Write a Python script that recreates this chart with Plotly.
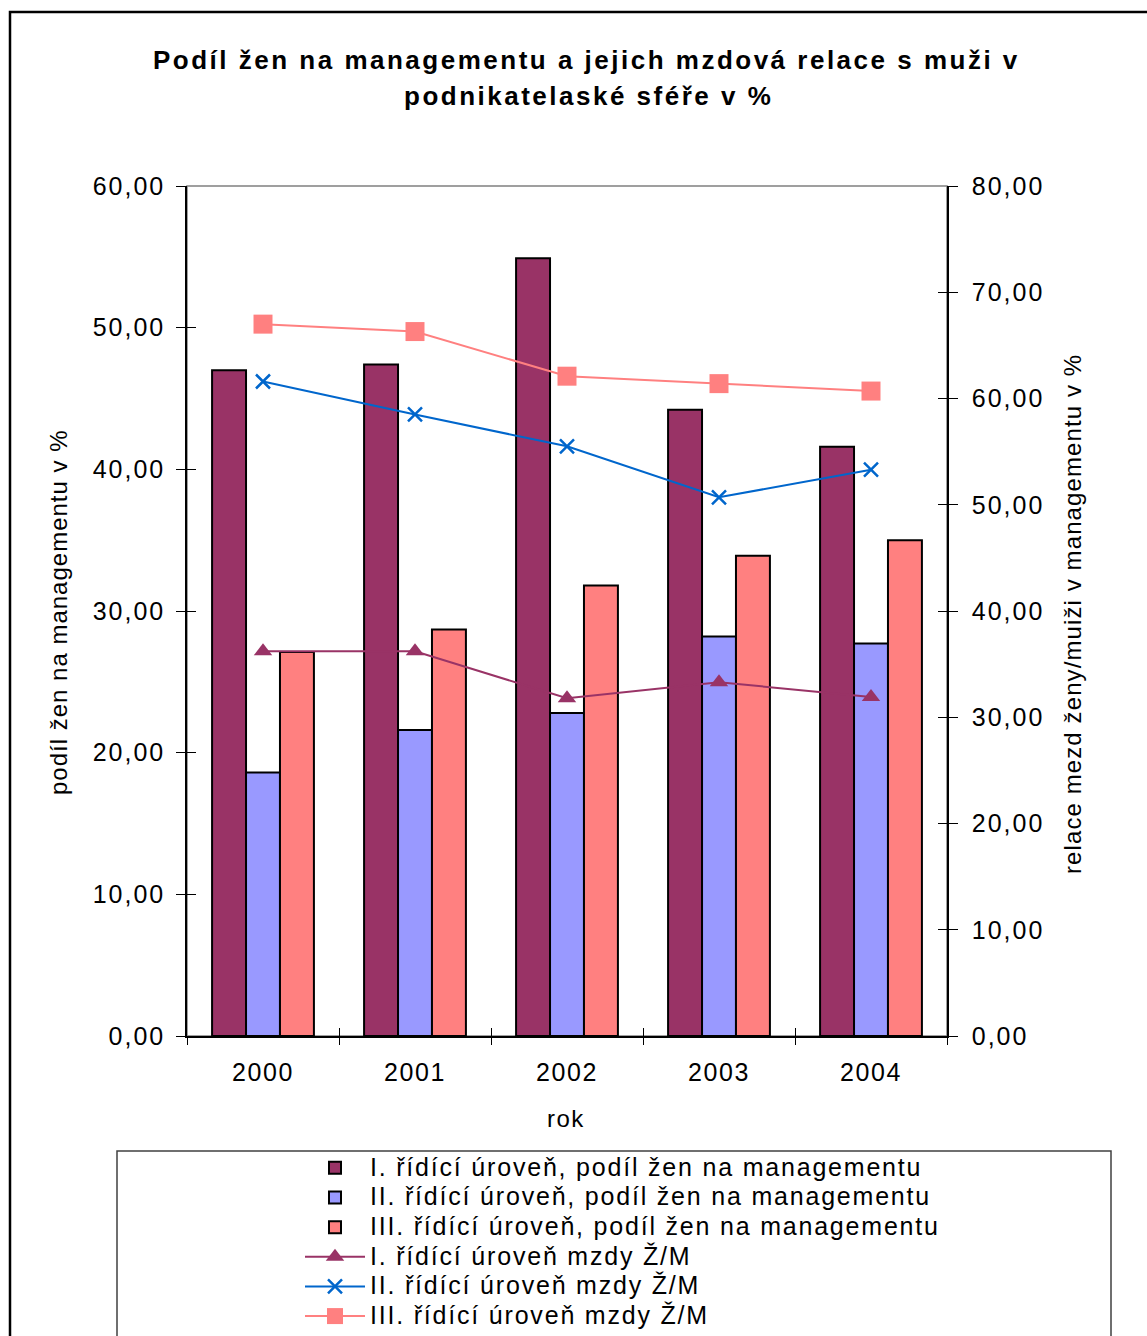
import plotly.graph_objects as go

# Years on the category axis
years = ["2000", "2001", "2002", "2003", "2004"]

# Share of women in management (%), left axis
share_I = [47.0, 47.4, 54.9, 44.2, 41.6]
share_II = [18.6, 21.6, 22.8, 28.2, 27.7]
share_III = [27.1, 28.7, 31.8, 33.9, 35.0]

# Women/men wage relation (%), right axis
wage_I = [36.2, 36.2, 31.8, 33.3, 31.9]
wage_II = [61.6, 58.5, 55.5, 50.7, 53.3]
wage_III = [67.0, 66.3, 62.1, 61.4, 60.7]

# Axis tick values
left_ticks = [0, 10, 20, 30, 40, 50, 60]
right_ticks = [0, 10, 20, 30, 40, 50, 60, 70, 80]

bar_names = [
    "I. řídící úroveň, podíl žen na managementu",
    "II. řídící úroveň, podíl žen na managementu",
    "III. řídící úroveň, podíl žen na managementu",
]
line_names = [
    "I. řídící úroveň mzdy Ž/M",
    "II. řídící úroveň mzdy Ž/M",
    "III. řídící úroveň mzdy Ž/M",
]

FONT = "Liberation Sans, Arial, sans-serif"


def spaced(text, ls, size=None):
    """Wrap text in a span with letter spacing (and optional size)."""
    style = f"letter-spacing:{ls}px"
    if size:
        style += f";font-size:{size}px"
    return f'<span style="{style}">{text}</span>'


def dec(v):
    return f"{v:.2f}".replace(".", ",")


fig = go.Figure()

bar_colors = ["#993366", "#9999FF", "#FF8080"]
for name, vals, col in zip(bar_names, [share_I, share_II, share_III], bar_colors):
    fig.add_trace(go.Bar(
        x=years, y=vals, name=spaced(name, 1.8, 25),
        marker=dict(color=col, line=dict(color="black", width=2)),
        xaxis="x", yaxis="y",
    ))

fig.add_trace(go.Scatter(
    x=years, y=wage_I, name=spaced(line_names[0], 1.8, 25), mode="lines+markers",
    line=dict(color="#993366", width=2),
    marker=dict(symbol="triangle-up", size=16, color="#993366"),
    xaxis="x", yaxis="y2",
))
fig.add_trace(go.Scatter(
    x=years, y=wage_II, name=spaced(line_names[1], 1.8, 25), mode="lines+markers",
    line=dict(color="#0066CC", width=2),
    marker=dict(symbol="x-thin", size=14, color="#0066CC",
                line=dict(color="#0066CC", width=2.5)),
    xaxis="x", yaxis="y2",
))
fig.add_trace(go.Scatter(
    x=years, y=wage_III, name=spaced(line_names[2], 1.8, 25), mode="lines+markers",
    line=dict(color="#FF8080", width=2),
    marker=dict(symbol="square", size=19, color="#FF8080"),
    xaxis="x", yaxis="y2",
))

# Empty helpers so the tick-only overlay axes get drawn
fig.add_trace(go.Scatter(x=[], y=[], xaxis="x2", yaxis="y3",
                         showlegend=False, hoverinfo="skip"))
fig.add_trace(go.Scatter(x=[], y=[], xaxis="x3", yaxis="y4",
                         showlegend=False, hoverinfo="skip"))

tick_font = dict(family=FONT, size=25, color="black")
boundaries = [-0.5, 0.5, 1.5, 2.5, 3.5, 4.5]
tick_common = dict(ticklen=9, tickwidth=1.2, tickcolor="black",
                   showgrid=False, zeroline=False)

fig.update_layout(
    width=1147, height=1336,
    margin=dict(l=187, r=200, t=186, b=300, autoexpand=False),
    paper_bgcolor="white", plot_bgcolor="white",
    barmode="group", bargap=0.33, bargroupgap=0,
    showlegend=True,
    legend=dict(
        x=(300 - 187) / 760, y=(1036 - 1148) / 850,
        xanchor="left", yanchor="top",
        font=dict(family=FONT, size=20.5, color="black"),
        itemwidth=60, bgcolor="rgba(0,0,0,0)", tracegroupgap=0,
    ),
    # category axis: labels only
    xaxis=dict(
        type="category", range=[-0.5, 4.5],
        tickvals=years, ticktext=[spaced(y, 1.6) for y in years],
        ticks="", showline=True, linecolor="black", linewidth=1.5,
        tickfont=tick_font, ticklabelstandoff=13, showgrid=False,
        zeroline=False,
    ),
    # boundary ticks, outer and inner halves
    xaxis2=dict(
        overlaying="x", anchor="y", side="bottom", range=[-0.5, 4.5],
        tickvals=boundaries, ticks="outside", showticklabels=False,
        showline=False, ticklen=8, tickwidth=1.2, tickcolor="black",
        showgrid=False, zeroline=False,
    ),
    xaxis3=dict(
        overlaying="x", anchor="y", side="bottom", range=[-0.5, 4.5],
        tickvals=boundaries, ticks="inside", showticklabels=False,
        showline=False, ticklen=8, tickwidth=1.2, tickcolor="black",
        showgrid=False, zeroline=False,
    ),
    yaxis=dict(
        range=[0, 60], tickvals=left_ticks,
        ticktext=[spaced(dec(v), 2) for v in left_ticks],
        ticks="outside", showline=True, linecolor="black", linewidth=1.5,
        tickfont=tick_font, ticklabelstandoff=6, **tick_common,
    ),
    yaxis2=dict(
        range=[0, 80], tickvals=right_ticks,
        ticktext=[spaced(dec(v), 2) for v in right_ticks],
        overlaying="y", side="right", anchor="x",
        ticks="outside", showline=True, linecolor="black", linewidth=1.5,
        tickfont=tick_font, ticklabelstandoff=9, **tick_common,
    ),
    yaxis3=dict(
        range=[0, 60], tickvals=left_ticks, overlaying="y", side="left",
        anchor="x2", ticks="inside", showticklabels=False, showline=False,
        **tick_common,
    ),
    yaxis4=dict(
        range=[0, 80], tickvals=right_ticks, overlaying="y", side="right",
        anchor="x3", ticks="inside", showticklabels=False, showline=False,
        **tick_common,
    ),
)


# Titles and axis captions
def px_x(p):
    return (p - 187) / 760


def px_y(p):
    return (1036 - p) / 850


title_font = dict(family=FONT, size=26, color="black", weight="bold")
caption_font = dict(family=FONT, size=24, color="black")
annotations = [
    dict(text=spaced("Podíl žen na managementu a jejich mzdová relace s muži v", 2.5),
         x=px_x(586), y=px_y(60), font=title_font),
    dict(text=spaced("podnikatelaské sféře v %", 2.5),
         x=px_x(588), y=px_y(96), font=title_font),
    dict(text=spaced("rok", 1.5), x=px_x(566), y=px_y(1118), font=caption_font),
    dict(text=spaced("podíl žen na managementu v %", 1), x=px_x(58), y=px_y(612),
         textangle=-90, font=caption_font),
    dict(text=spaced("relace mezd ženy/muiži v managementu v %", 1.1),
         x=px_x(1072), y=px_y(614), textangle=-90, font=caption_font),
]
for a in annotations:
    fig.add_annotation(xref="paper", yref="paper", showarrow=False,
                       xanchor="center", yanchor="middle", **a)

# Outer chart frame, plot-area border and legend box
fig.add_shape(type="rect", xref="paper", yref="paper",
              x0=px_x(10), x1=px_x(1150), y0=px_y(1345), y1=px_y(12),
              line=dict(color="black", width=2.5), layer="below")
fig.add_shape(type="rect", xref="paper", yref="paper",
              x0=0, x1=1, y0=0, y1=1,
              line=dict(color="#808080", width=1.5), layer="below")
fig.add_shape(type="rect", xref="paper", yref="paper",
              x0=px_x(117), x1=px_x(1111), y0=px_y(1345), y1=px_y(1151),
              line=dict(color="#404040", width=1.5), layer="below")

fig.write_html("out.html")
